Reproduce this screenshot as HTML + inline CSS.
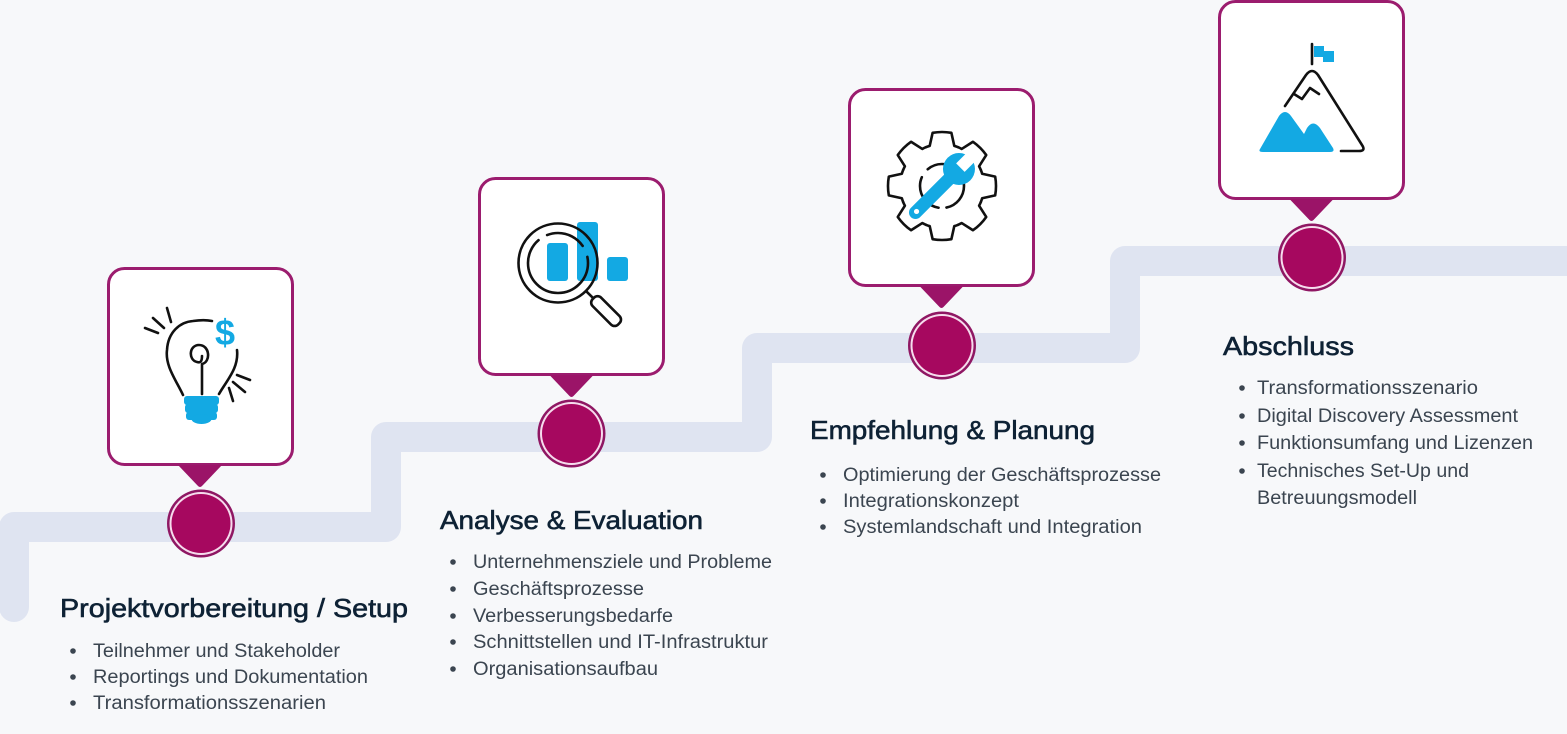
<!DOCTYPE html>
<html><head><meta charset="utf-8"><style>
html,body{margin:0;padding:0;background:#f7f8fa;}
svg{display:block;}
text{font-family:"Liberation Sans",Arial,sans-serif;}
.t{font-size:26px;fill:#0e2235;stroke:#0e2235;stroke-width:0.6px;}
.b{font-size:19px;fill:#3b4550;}
.d{fill:#3b4550;}
.k{fill:none;stroke:#111;stroke-width:2.6;stroke-linecap:round;stroke-linejoin:round;}
</style></head><body>
<svg width="1567" height="734" viewBox="0 0 1567 734" xmlns="http://www.w3.org/2000/svg">
<rect width="1567" height="734" fill="#f7f8fa"/>
<path d="M14,607 L14,527 L386,527 L386,437 L757,437 L757,348 L1125,348 L1125,261 L1600,261" fill="none" stroke="#dfe4f1" stroke-width="30" stroke-linejoin="round" stroke-linecap="round"/>

<g fill="#fff" stroke="#9b1c6e" stroke-width="3">
<rect x="108.5" y="268.5" width="184" height="196" rx="16"/>
<rect x="479.5" y="178.5" width="184" height="196" rx="16"/>
<rect x="849.5" y="89.5" width="184" height="196" rx="16"/>
<rect x="1219.5" y="1.5" width="184" height="197" rx="16"/>
</g>
<g fill="#9b1468">
<path d="M178,465 L222,465 L202,486 Q200,488 198,486 Z"/>
<path d="M549.5,375 L593.5,375 L573.5,396 Q571.5,398 569.5,396 Z"/>
<path d="M919.5,286 L963.5,286 L943.5,307 Q941.5,309 939.5,307 Z"/>
<path d="M1289.5,199 L1333.5,199 L1313.5,220 Q1311.5,222 1309.5,220 Z"/>
</g>
<g>
<circle cx="201" cy="523.5" r="34" fill="#8f1763"/><circle cx="201" cy="523.5" r="31.5" fill="#f6dced"/><circle cx="201" cy="523.5" r="29.5" fill="#a6085f"/>
<circle cx="571.5" cy="433.5" r="34" fill="#8f1763"/><circle cx="571.5" cy="433.5" r="31.5" fill="#f6dced"/><circle cx="571.5" cy="433.5" r="29.5" fill="#a6085f"/>
<circle cx="942" cy="345.5" r="34" fill="#8f1763"/><circle cx="942" cy="345.5" r="31.5" fill="#f6dced"/><circle cx="942" cy="345.5" r="29.5" fill="#a6085f"/>
<circle cx="1312" cy="257.5" r="34" fill="#8f1763"/><circle cx="1312" cy="257.5" r="31.5" fill="#f6dced"/><circle cx="1312" cy="257.5" r="29.5" fill="#a6085f"/>
</g>

<!-- bulb -->
<g class="k">
<line x1="145" y1="328" x2="158" y2="333"/>
<line x1="153" y1="318" x2="164" y2="328"/>
<line x1="167" y1="308" x2="171" y2="322"/>
<line x1="237" y1="375" x2="250" y2="380"/>
<line x1="233" y1="382" x2="245" y2="392"/>
<line x1="229" y1="388" x2="233" y2="401"/>
<path d="M183,395 C176,380 165,366 167,350 C168,332 180,322 193,321 C200,320 207,320 212,321"/>
<path d="M237,350 C239,368 227,380 219,394"/>
<path d="M202,394 L202,364 C211,362 210,345 199,345 C189,345 188,360 197,362 C200,363 202,362 202,356"/>
</g>
<g fill="#13a9e3">
<rect x="184" y="396" width="35" height="9" rx="3"/>
<rect x="185" y="404" width="33" height="9" rx="3"/>
<rect x="186" y="412" width="31" height="8" rx="3"/>
<ellipse cx="201.5" cy="419" rx="10" ry="5"/>
</g>
<text x="215" y="345" font-size="36" font-weight="bold" fill="#13a9e3" style="font-family:'Liberation Sans',sans-serif">$</text>

<!-- magnifier -->
<g fill="#13a9e3">
<rect x="547" y="243" width="21" height="38" rx="3"/>
<rect x="577" y="222" width="21" height="59" rx="3"/>
<rect x="607" y="257" width="21" height="24" rx="3"/>
</g>
<circle cx="558" cy="263" r="39.5" class="k"/>
<circle cx="558" cy="263" r="30" class="k" stroke-dasharray="120 10 40 12"/>
<g class="k" transform="translate(558,263) rotate(45)">
<line x1="40" y1="0" x2="50" y2="0"/>
<rect x="50" y="-6" width="36" height="12" rx="5"/>
</g>

<!-- gear + wrench -->
<g transform="translate(942,186)" class="k" stroke-width="2.4">
<path d="M38.80,-16.07 A42,42 0 0 1 40.16,-12.28 L53.18,-9.38 A54,54 0 0 1 53.18,9.38 L40.16,12.28 A42,42 0 0 1 38.80,16.07"/>
<path transform="rotate(45)" d="M38.80,-16.07 A42,42 0 0 1 40.16,-12.28 L53.18,-9.38 A54,54 0 0 1 53.18,9.38 L40.16,12.28 A42,42 0 0 1 38.80,16.07"/>
<path transform="rotate(90)" d="M38.80,-16.07 A42,42 0 0 1 40.16,-12.28 L53.18,-9.38 A54,54 0 0 1 53.18,9.38 L40.16,12.28 A42,42 0 0 1 38.80,16.07"/>
<path transform="rotate(135)" d="M38.80,-16.07 A42,42 0 0 1 40.16,-12.28 L53.18,-9.38 A54,54 0 0 1 53.18,9.38 L40.16,12.28 A42,42 0 0 1 38.80,16.07"/>
<path transform="rotate(180)" d="M38.80,-16.07 A42,42 0 0 1 40.16,-12.28 L53.18,-9.38 A54,54 0 0 1 53.18,9.38 L40.16,12.28 A42,42 0 0 1 38.80,16.07"/>
<path transform="rotate(225)" d="M38.80,-16.07 A42,42 0 0 1 40.16,-12.28 L53.18,-9.38 A54,54 0 0 1 53.18,9.38 L40.16,12.28 A42,42 0 0 1 38.80,16.07"/>
<path transform="rotate(270)" d="M38.80,-16.07 A42,42 0 0 1 40.16,-12.28 L53.18,-9.38 A54,54 0 0 1 53.18,9.38 L40.16,12.28 A42,42 0 0 1 38.80,16.07"/>
<path transform="rotate(315)" d="M38.80,-16.07 A42,42 0 0 1 40.16,-12.28 L53.18,-9.38 A54,54 0 0 1 53.18,9.38 L40.16,12.28 A42,42 0 0 1 38.80,16.07"/>
<circle r="22" stroke-dasharray="30 8 40 10"/>
</g>
<g transform="translate(942,186) rotate(-45)">
<rect x="-44" y="-6.5" width="62" height="13" rx="6.5" fill="#13a9e3"/>
<circle cx="24" cy="0" r="16" fill="#13a9e3"/>
<rect x="26" y="-6" width="18" height="12" fill="#fff"/>
<circle cx="-36" cy="0" r="2.6" fill="#fff"/>
</g>

<!-- mountain -->
<line x1="1312" y1="44" x2="1312" y2="64" class="k"/>
<path d="M1314,46 H1324 V51 H1334 V62 H1323 V57 H1314 Z" fill="#13a9e3"/>
<path class="k" d="M1285,106 L1306,75 Q1312,67 1318,75 L1362,145 Q1366,151 1359,151 L1341,151"/>
<path class="k" d="M1294,94 L1302,99 L1310,88 L1319,94"/>
<path fill="#13a9e3" d="M1260,149 Q1258,152 1263,152 L1330,152 Q1335,152 1333,148 L1320,128 Q1313,119 1307,128 L1304,134 L1291,116 Q1285,108 1279,116 Z"/>

<!-- column 1 -->
<text class="t" x="60" y="617" textLength="348" lengthAdjust="spacingAndGlyphs">Projektvorbereitung / Setup</text>
<g class="d"><circle cx="73" cy="651" r="2.8"/><circle cx="73" cy="677" r="2.8"/><circle cx="73" cy="703" r="2.8"/></g>
<text class="b" x="93" y="657" textLength="247" lengthAdjust="spacingAndGlyphs">Teilnehmer und Stakeholder</text>
<text class="b" x="93" y="683" textLength="275" lengthAdjust="spacingAndGlyphs">Reportings und Dokumentation</text>
<text class="b" x="93" y="709" textLength="233" lengthAdjust="spacingAndGlyphs">Transformationsszenarien</text>

<!-- column 2 -->
<text class="t" x="440" y="529" textLength="263" lengthAdjust="spacingAndGlyphs">Analyse &amp; Evaluation</text>
<g class="d"><circle cx="453" cy="562" r="2.8"/><circle cx="453" cy="589" r="2.8"/><circle cx="453" cy="616" r="2.8"/><circle cx="453" cy="642" r="2.8"/><circle cx="453" cy="669" r="2.8"/></g>
<text class="b" x="473" y="568" textLength="299" lengthAdjust="spacingAndGlyphs">Unternehmensziele und Probleme</text>
<text class="b" x="473" y="595" textLength="171" lengthAdjust="spacingAndGlyphs">Geschäftsprozesse</text>
<text class="b" x="473" y="622" textLength="200" lengthAdjust="spacingAndGlyphs">Verbesserungsbedarfe</text>
<text class="b" x="473" y="648" textLength="295" lengthAdjust="spacingAndGlyphs">Schnittstellen und IT-Infrastruktur</text>
<text class="b" x="473" y="675" textLength="185" lengthAdjust="spacingAndGlyphs">Organisationsaufbau</text>

<!-- column 3 -->
<text class="t" x="810" y="439" textLength="285" lengthAdjust="spacingAndGlyphs">Empfehlung &amp; Planung</text>
<g class="d"><circle cx="823" cy="475" r="2.8"/><circle cx="823" cy="501" r="2.8"/><circle cx="823" cy="527" r="2.8"/></g>
<text class="b" x="843" y="481" textLength="318" lengthAdjust="spacingAndGlyphs">Optimierung der Geschäftsprozesse</text>
<text class="b" x="843" y="507" textLength="176" lengthAdjust="spacingAndGlyphs">Integrationskonzept</text>
<text class="b" x="843" y="533" textLength="299" lengthAdjust="spacingAndGlyphs">Systemlandschaft und Integration</text>

<!-- column 4 -->
<text class="t" x="1223" y="355" textLength="131" lengthAdjust="spacingAndGlyphs">Abschluss</text>
<g class="d"><circle cx="1242" cy="388" r="2.8"/><circle cx="1242" cy="416" r="2.8"/><circle cx="1242" cy="443" r="2.8"/><circle cx="1242" cy="471" r="2.8"/></g>
<text class="b" x="1257" y="394" textLength="221" lengthAdjust="spacingAndGlyphs">Transformationsszenario</text>
<text class="b" x="1257" y="422" textLength="261" lengthAdjust="spacingAndGlyphs">Digital Discovery Assessment</text>
<text class="b" x="1257" y="449" textLength="276" lengthAdjust="spacingAndGlyphs">Funktionsumfang und Lizenzen</text>
<text class="b" x="1257" y="477" textLength="212" lengthAdjust="spacingAndGlyphs">Technisches Set-Up und</text>
<text class="b" x="1257" y="504" textLength="160" lengthAdjust="spacingAndGlyphs">Betreuungsmodell</text>
</svg>
</body></html>
